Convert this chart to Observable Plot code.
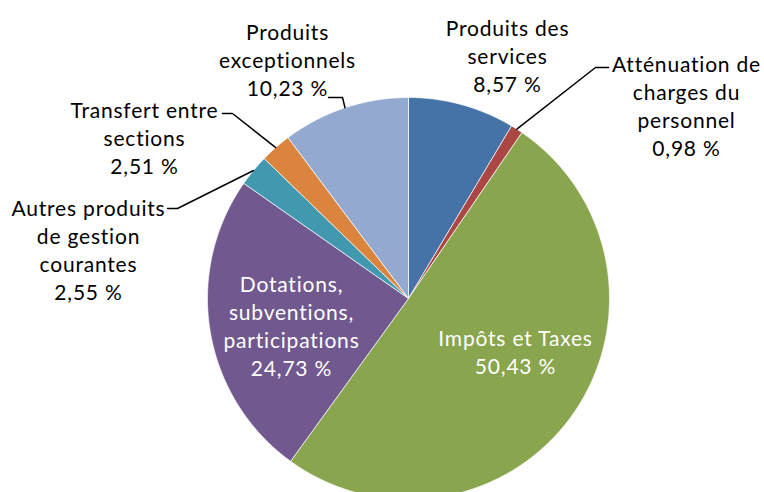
<!DOCTYPE html>
<html><head><meta charset="utf-8">
<script src="https://cdn.jsdelivr.net/npm/d3@7"></script>
<script src="https://cdn.jsdelivr.net/npm/@observablehq/plot@0.6"></script>
<style>html,body{margin:0;padding:0;background:#fff;overflow:hidden}</style>
</head><body><div id="chart"></div>
<script>
// ---- data ----
const categories = ["Produits des services", "Atténuation de charges du personnel", "Impôts et Taxes",
  "Dotations, subventions, participations", "Autres produits de gestion courantes",
  "Transfert entre sections", "Produits exceptionnels"];
const values = [8.57, 0.98, 50.43, 24.73, 2.55, 2.51, 10.23];
const labelLines = [["Produits des", "services"], ["Atténuation de", "charges du", "personnel"],
  ["Impôts et Taxes"], ["Dotations,", "subventions,", "participations"],
  ["Autres produits", "de gestion", "courantes"], ["Transfert entre", "sections"],
  ["Produits", "exceptionnels"]];

// ---- styles / layout ----
const colors = ["#4572A7", "#AA4643", "#89A54E", "#71588F", "#4198AF", "#DB843D", "#93A9CF"];
const textColors = ["#000", "#000", "#fff", "#fff", "#000", "#000", "#000"];
const W = 764, H = 492, CX = 408, CY = 298, R = 201;
const FONT = 21, LINE = 28;
// label block centres (pixels)
const labelPos = [[507, 55], [686, 105], [515, 351], [291, 325], [88, 249], [144, 137], [287, 59]];
// leader line elbows (from label towards slice); null = no leader
const leaderElbows = [null, [[608, 67], [595, 67]], null, null, [[167, 208], [177, 208]],
  [[222, 113], [232, 113]], [[328, 97], [342, 97]]];

const arcs = d3.pie().sort(null).startAngle(0).endAngle(2 * Math.PI)(values);
const pt = (a, r) => ({x: CX + r * Math.sin(a), y: CY - r * Math.cos(a)});

const slicePts = [];
arcs.forEach((a, i) => {
  const name = categories[i];
  slicePts.push({name, ...pt(0, 0)});
  const n = Math.max(2, Math.ceil((a.endAngle - a.startAngle) / 0.005));
  for (let k = 0; k <= n; k++) {
    const t = a.startAngle + (a.endAngle - a.startAngle) * k / n;
    slicePts.push({name, ...pt(t, R)});
  }
  slicePts.push({name, ...pt(0, 0)});
});

const leaderPts = [];
arcs.forEach((a, i) => {
  if (!leaderElbows[i]) return;
  const name = categories[i];
  leaderElbows[i].forEach(([x, y]) => leaderPts.push({name, x, y}));
  leaderPts.push({name, ...pt((a.startAngle + a.endAngle) / 2, R)});
});

const fmt = v => v.toFixed(2).replace(".", ",") + " %";
const labels = categories.map((c, i) => ({
  name: c,
  x: labelPos[i][0], y: labelPos[i][1],
  text: [...labelLines[i], fmt(values[i])].join("\n"),
  fill: textColors[i]
}));

const chart = Plot.plot({
  width: W, height: H, margin: 0,
  x: {domain: [0, W], range: [0, W], axis: null},
  y: {domain: [0, H], range: [0, H], axis: null},
  color: {domain: categories, range: colors},
  style: {fontFamily: "Lato, 'Open Sans', sans-serif", background: "white",
    letterSpacing: "0.8px", fontVariantLigatures: "none"},
  marks: [
    Plot.line(slicePts, {x: "x", y: "y", z: "name", fill: "name", stroke: "white", strokeWidth: 0.7, curve: "linear"}),
    Plot.line(leaderPts, {x: "x", y: "y", z: "name", stroke: "black", strokeWidth: 1.5, curve: "linear"}),
    Plot.text(labels, {x: "x", y: "y", text: "text", fill: d => d.fill, fontSize: FONT,
      lineHeight: LINE / FONT, textAnchor: "middle"})
  ]
});
document.getElementById("chart").appendChild(chart);
</script>
</body></html>
